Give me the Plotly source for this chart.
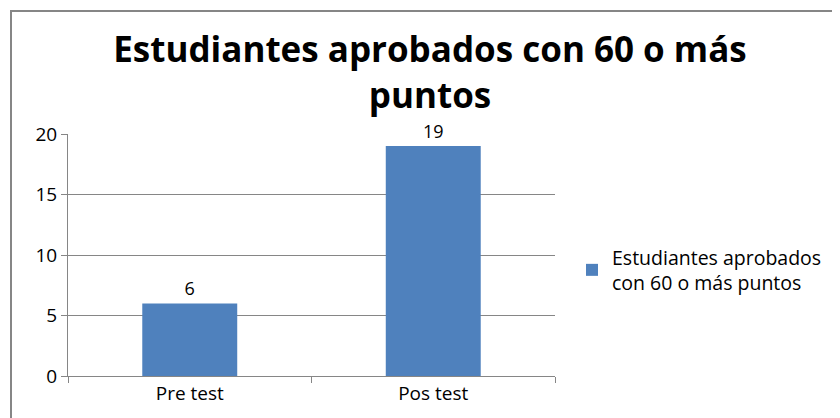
import plotly.graph_objects as go

categories = ["Pre test", "Pos test"]
values = [6, 19]
series_name = "Estudiantes aprobados<br>con 60 o más puntos"
title_text = "Estudiantes aprobados con 60 o más<br>puntos"
y_ticks = [0, 5, 10, 15, 20]

FONT = "Open Sans, sans-serif"
OFF = 8  # page body offset

L, T, R, B = 68 - OFF, 134 - OFF, 555 - OFF, 376 - OFF
PW, PH = R - L, B - T

fig = go.Figure()
fig.add_trace(go.Bar(
    x=categories, y=values, name=series_name,
    marker=dict(color="#4F81BD", line=dict(width=0)),
    width=0.39,
    text=[str(v) for v in values], textposition="outside",
    textfont=dict(size=18, color="#000000", family=FONT),
    cliponaxis=False,
    showlegend=True,
))

fig.update_layout(
    width=840, height=418,
    margin=dict(l=L, r=840 - R, t=T, b=418 - B),
    paper_bgcolor="white", plot_bgcolor="white",
    font=dict(family=FONT, color="#000000"),
    title=dict(text="<b>" + title_text + "</b>", x=(430 - OFF)/840, xanchor="center",
               y=1-(62 - OFF)/418, yanchor="middle",
               font=dict(size=35, family=FONT, color="#000000")),
    legend=dict(x=(572 - OFF - L)/PW, y=(B - (238 - OFF))/PH, xanchor="left", yanchor="top",
                font=dict(size=19.5, family=FONT, color="#000000"),
                bgcolor="rgba(0,0,0,0)", itemsizing="constant", tracegroupgap=0),
    bargap=0.61,
    showlegend=True,
)
fig.update_xaxes(
    showline=True, linecolor="#868686", linewidth=1,
    ticks="outside", tickson="boundaries", ticklen=6, tickcolor="#868686",
    showgrid=False, tickfont=dict(size=19, family=FONT, color="#000000"),
)
fig.update_yaxes(
    range=[0, 20], tickvals=y_ticks,
    showline=True, linecolor="#868686", linewidth=1,
    ticks="outside", ticklen=6, tickcolor="#868686",
    showgrid=True, gridcolor="#868686", gridwidth=1,
    zeroline=False,
    tickfont=dict(size=19, family=FONT, color="#000000"),
)
# outer chart frame
fig.add_shape(type="rect", xref="paper", yref="paper",
              x0=(11 - OFF - L)/PW, x1=(900 - L)/PW,
              y0=(B - 460)/PH, y1=1 + (T - (11 - OFF))/PH,
              line=dict(color="#868686", width=2), fillcolor="rgba(0,0,0,0)", layer="below")

fig.write_html("out.html")
